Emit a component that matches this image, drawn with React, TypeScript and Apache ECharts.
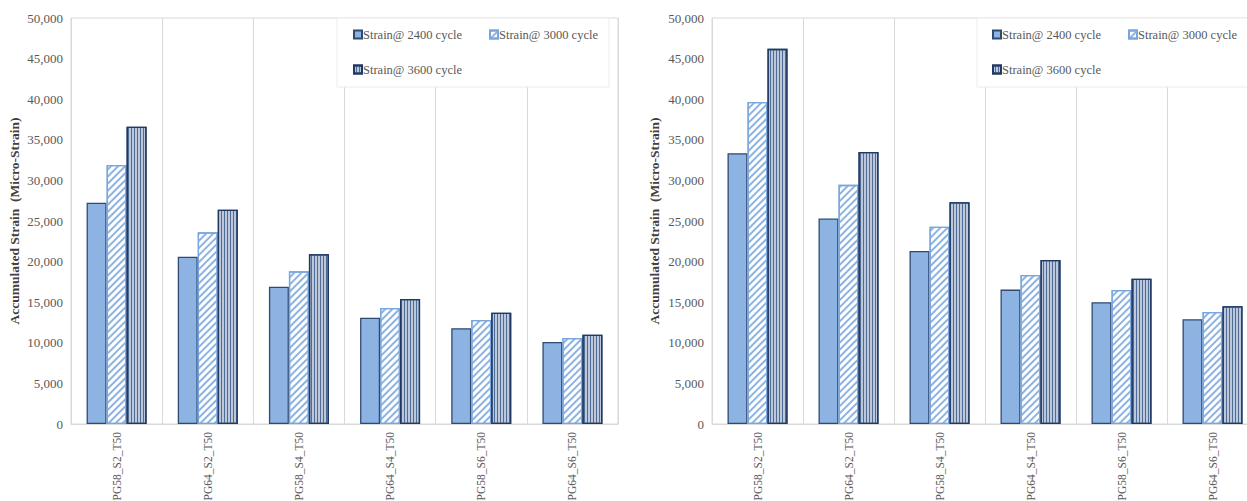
import React, { useEffect, useRef } from "react";
import * as echarts from "echarts";

const categories = ["PG58_S2_T50", "PG64_S2_T50", "PG58_S4_T50", "PG64_S4_T50", "PG58_S6_T50", "PG64_S6_T50"];
const seriesNames = ["Strain@ 2400 cycle", "Strain@ 3000 cycle", "Strain@ 3600 cycle"];

const leftStrain2400 = [27250, 20600, 16900, 13100, 11800, 10100];
const leftStrain3000 = [31900, 23600, 18800, 14300, 12800, 10600];
const leftStrain3600 = [36600, 26400, 20900, 15400, 13700, 11000];

const rightStrain2400 = [33350, 25300, 21300, 16550, 15000, 12900];
const rightStrain3000 = [39650, 29450, 24300, 18350, 16500, 13800];
const rightStrain3600 = [46200, 33500, 27300, 20200, 17900, 14500];

const yTicks = { min: 0, max: 50000, interval: 5000 };
const yAxisTitle = "Accumulated Strain  (Micro-Strain)";

const FONT = "'Liberation Serif', 'Times New Roman', serif";

const styles = [
  {
    color: "#8db3e2",
    borderColor: "#2f4a72",
    borderWidth: 1.3,
  },
  {
    color: "#ffffff",
    borderColor: "#7aa6de",
    borderWidth: 1.3,
    decal: {
      symbol: "rect",
      symbolSize: 1,
      color: "#8db3e2",
      backgroundColor: null,
      dashArrayX: [1, 0],
      dashArrayY: [2, 3],
      rotation: -Math.PI / 4,
    },
  },
  {
    color: "#bcc8d9",
    borderColor: "#1f3864",
    borderWidth: 1.3,
    decal: {
      symbol: "rect",
      symbolSize: 1,
      color: "#4f6c96",
      backgroundColor: null,
      dashArrayX: [1, 0],
      dashArrayY: [1, 2],
      rotation: Math.PI / 2,
    },
  },
];

export default function App() {
  const ref = useRef<HTMLDivElement>(null);

  useEffect(() => {
    if (!ref.current) return;
    const chart = echarts.init(ref.current, null, { renderer: "svg" });

    const grids = [
      { left: 71, top: 18, width: 547, height: 406 },
      { left: 712, top: 18, width: 546, height: 406 },
    ];
    const data = [
      [leftStrain2400, leftStrain3000, leftStrain3600],
      [rightStrain2400, rightStrain3000, rightStrain3600],
    ];

    const legendBoxes = [
      { x: 337, y: 18, w: 272, h: 69, iconX: 353, icon2X: 489 },
      { x: 977, y: 18, w: 272, h: 69, iconX: 992, icon2X: 1128 },
    ];

    const legends: any[] = [];
    legendBoxes.forEach((b) => {
      const pos = [
        [b.iconX, 28],
        [b.icon2X, 28],
        [b.iconX, 63],
      ];
      seriesNames.forEach((n, i) => {
        legends.push({
          data: [n],
          left: pos[i][0],
          top: pos[i][1],
          padding: 0,
          itemWidth: 8,
          itemHeight: 8,
          icon: "rect",
          z: 20,
          selectedMode: false,
          textStyle: {
            fontFamily: FONT,
            fontSize: 12.5,
            color: "#595959",
            padding: [0, 0, 0, -4],
          },
        });
      });
    });

    const series: any[] = [];
    data.forEach((set, gi) => {
      set.forEach((vals, si) => {
        series.push({
          type: "bar",
          name: seriesNames[si],
          xAxisIndex: gi,
          yAxisIndex: gi,
          data: vals,
          barWidth: 20,
          barGap: "0%",
          itemStyle: styles[si],
        });
      });
    });

    chart.setOption({
      animation: false,
      backgroundColor: "#ffffff",
      grid: grids.map((g) => ({
        ...g,
        containLabel: false,
        outerBoundsMode: "none",
        show: true,
        borderColor: "#d9d9d9",
        borderWidth: 1,
        backgroundColor: "transparent",
      })),
      xAxis: grids.map((_, i) => ({
        type: "category",
        gridIndex: i,
        data: categories,
        axisLine: { show: true, lineStyle: { color: "#d9d9d9", width: 1 } },
        axisTick: { show: false },
        splitLine: { show: true, interval: 0, lineStyle: { color: "#d9d9d9", width: 1 } },
        axisLabel: {
          interval: 0,
          rotate: 90,
          margin: 8,
          fontFamily: FONT,
          fontSize: 11.5,
          color: "#595959",
        },
      })),
      yAxis: grids.map((_, i) => ({
        type: "value",
        gridIndex: i,
        min: yTicks.min,
        max: yTicks.max,
        interval: yTicks.interval,
        name: yAxisTitle,
        nameLocation: "middle",
        nameGap: i === 0 ? 50 : 51,
        nameTextStyle: {
          fontFamily: FONT,
          fontSize: 13.5,
          fontWeight: "bold",
          color: "#404040",
        },
        axisLine: { show: false },
        axisTick: { show: false },
        splitLine: { show: false },
        axisLabel: {
          margin: 8,
          fontFamily: FONT,
          fontSize: 13,
          color: "#595959",
          formatter: (v: number) => v.toLocaleString("en-US"),
        },
      })),
      legend: legends,
      graphic: legendBoxes.map((b) => ({
        type: "rect",
        z: 10,
        shape: { x: b.x, y: b.y, width: b.w, height: b.h },
        style: { fill: "#ffffff", stroke: "#ececec", lineWidth: 1 },
      })),
      series,
    });

    return () => {
      chart.dispose();
    };
  }, []);

  return (
    <div
      ref={ref}
      style={{ position: "absolute", left: 0, top: 0, width: 1247, height: 501, overflow: "hidden" }}
    />
  );
}
